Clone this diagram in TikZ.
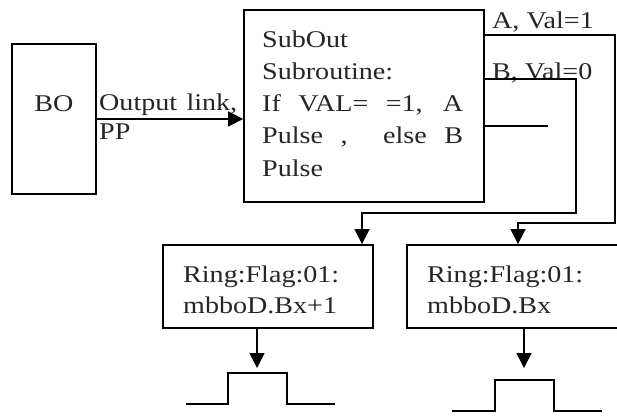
\documentclass[tikz,border=0pt]{standalone}
\usepackage{fontspec}
\setmainfont[FakeStretch=1.17]{Liberation Serif}
\usetikzlibrary{arrows.meta}
\begin{document}
\begin{tikzpicture}[x=1pt,y=-1pt,
  box/.style={draw,line width=1.8pt,inner sep=0pt},
  conn/.style={line width=1.6pt},
  arr/.style={conn,-{Triangle[length=15pt,width=15pt]}},
  txt/.style={inner sep=0pt,text=black!85,font=\fontsize{24}{31}\selectfont}]
\clip (0,0) rectangle (617,415);
\fill[white] (0,0) rectangle (617,415);
% boxes
\node[box,minimum width=84pt,minimum height=150pt] (bo) at (54,119) {};
\node[txt,anchor=base] (bolabel) at (54,111) {BO};
\node[box,minimum width=240pt,minimum height=192pt] (sub) at (364,106) {};
\node[txt,anchor=base west,font=\fontsize{24}{32.3}\selectfont] (subtext) at (262,47)
  {\parbox[t]{210pt}{SubOut\\Subroutine:\\\makebox[201pt][s]{If VAL= =1, A}\\\makebox[201pt][s]{Pulse ,\ \ else B}\\Pulse}};
\node[box,minimum width=210pt,minimum height=83pt] (r1) at (268,286.5) {};
\node[txt,anchor=base west] (r1text) at (183,282) {\parbox[t]{190pt}{Ring:Flag:01:\\mbboD.Bx+1}};
\node[box,minimum width=213pt,minimum height=83pt] (r2) at (513.5,286.5) {};
\node[txt,anchor=base west] (r2text) at (427,282) {\parbox[t]{180pt}{Ring:Flag:01:\\mbboD.Bx}};
% labels
\node[txt,anchor=base west,font=\fontsize{24}{29}\selectfont] (outlbl) at (99,110)
  {\parbox[t]{140pt}{\makebox[138pt][s]{Output link,}\\PP}};
\node[txt,anchor=base west] (alabel) at (492,28) {A, Val=1};
\node[txt,anchor=base west] (blabel) at (492,79) {B, Val=0};
% connectors
\draw[arr] (bo.east) -- (bo.east -| sub.west);
\coordinate (aTurn) at (615,223);
\coordinate (aDrop) at (518,223);
\draw[arr] ([yshift=-26pt]sub.north east) -| (aTurn) -- (aDrop) -- (aDrop |- r2.north);
\coordinate (bTurn) at (576,213);
\coordinate (bDrop) at (362,213);
\draw[arr] ([yshift=-70pt]sub.north east) -| (bTurn) -- (bDrop) -- (bDrop |- r1.north);
\coordinate (cEnd) at (548,126);
\draw[conn] (sub.east |- cEnd) -- (cEnd);
\coordinate (p1) at (257,368);
\draw[arr] (r1.south -| p1) -- (p1);
\coordinate (p2) at (524,368);
\draw[arr] (r2.south -| p2) -- (p2);
% pulses
\draw[conn] (186,404) -- (228,404) -- (228,373) -- (287,373) -- (287,404) -- (335,404);
\draw[conn] (452,411) -- (495,411) -- (495,380) -- (554,380) -- (554,411) -- (602,411);
\end{tikzpicture}
\end{document}
